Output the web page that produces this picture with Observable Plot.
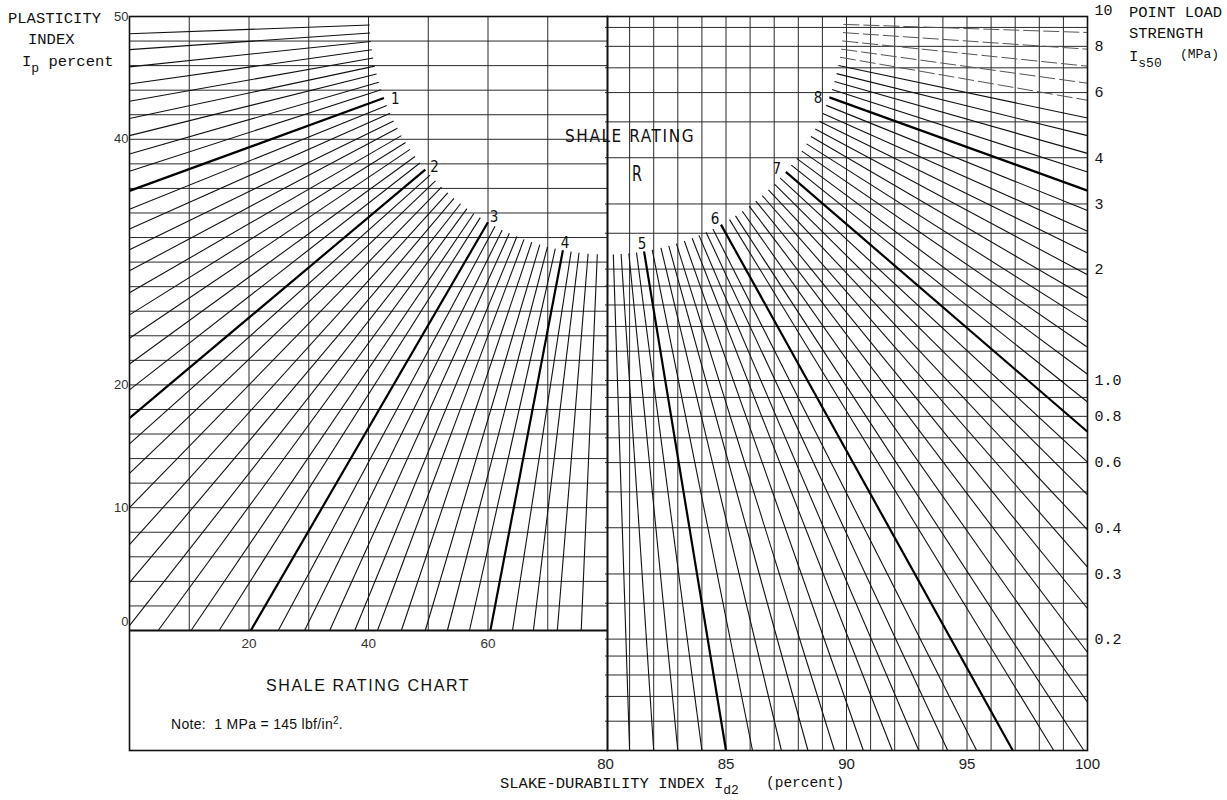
<!DOCTYPE html>
<html>
<head>
<meta charset="utf-8">
<script src="https://cdn.jsdelivr.net/npm/d3@7"></script>
<script src="https://cdn.jsdelivr.net/npm/@observablehq/plot@0.6"></script>
<style>
  html, body { margin: 0; padding: 0; background: #fff; }
  #chart { position: relative; width: 1227px; height: 800px; background: #fff; overflow: hidden; }
  #chart svg { position: absolute; left: 0; top: 0; }
  .t { position: absolute; white-space: nowrap; line-height: 1; color: #111; }
  .mono { font-family: "Liberation Mono", "DejaVu Sans Mono", monospace; font-size: 15.5px; }
  .mono sub { font-size: 13px; vertical-align: -6px; line-height: 0; }
  .sans { font-family: "Liberation Sans", Arial, sans-serif; }
  .narrow { font-family: "Liberation Sans Narrow", "DejaVu Sans Condensed", "Liberation Sans", sans-serif; font-stretch: condensed; }
  sup { font-size: 10px; vertical-align: 5px; line-height: 0; }
</style>
</head>
<body>
<div id="chart">
  <div class="t mono" style="left:8px; top:12px;">PLASTICITY</div>
  <div class="t mono" style="left:28px; top:33px;">INDEX</div>
  <div class="t mono" style="left:22px; top:55px;">I<sub>p</sub> percent</div>

  <div class="t mono" style="left:1129px; top:6px;">POINT LOAD</div>
  <div class="t mono" style="left:1129px; top:27px;">STRENGTH</div>
  <div class="t mono" style="left:1129px; top:50px;">I<sub>s50</sub></div>
  <div class="t mono" style="left:1180px; top:48px; font-size:13px;">(MPa)</div>

  <div class="t mono" style="left:500px; top:777px;">SLAKE-DURABILITY INDEX I<sub>d2</sub></div>
  <div class="t mono" style="left:766px; top:776px; font-size:14.5px;">(percent)</div>

  <div class="t narrow" style="left:565px; top:128px; font-size:17px; letter-spacing:1.6px;">SHALE RATING</div>
  <div class="t narrow" style="left:632px; top:163px; font-size:22px; transform:scaleX(0.72); transform-origin:left top;">R</div>

  <div class="t sans" style="left:266px; top:678px; font-size:16px; letter-spacing:1.6px;">SHALE RATING CHART</div>
  <div class="t sans" style="left:171px; top:717px; font-size:14px; letter-spacing:0.3px;">Note:&nbsp; 1 MPa = 145 lbf/in<sup>2</sup>.</div>
</div>
<script>
// ---- Axis ticks and grid ----------------------------------------------
const slakeTicksLow = [20, 40, 60];
const slakeTicksHigh = [80, 85, 90, 95, 100];
const plasticityTicks = [0, 10, 20, 40, 50];
const pointLoadTicks = [10, 8, 6, 4, 3, 2, 1.0, 0.8, 0.6, 0.4, 0.3, 0.2];
const pointLoadTickLabels = ["10", "8", "6", "4", "3", "2", "1.0", "0.8", "0.6", "0.4", "0.3", "0.2"];

const slakeGridLow = [10, 20, 30, 40, 50, 60, 70];
const plasticityGrid = [2, 4, 6, 8, 10, 12, 14, 16, 18, 20, 22, 24, 26, 28, 30, 32, 34, 36, 38, 40, 42, 44, 46, 48];
const slakeGridHigh = [81, 82, 83, 84, 85, 86, 87, 88, 89, 90, 91, 92, 93, 94, 95, 96, 97, 98, 99];
const pointLoadGrid = [9, 8, 7, 6, 5, 4, 3, 2.5, 2, 1.8, 1.6, 1.4, 1.2, 1.0, 0.9, 0.8, 0.7, 0.6, 0.5, 0.4, 0.3, 0.25, 0.2, 0.18, 0.16, 0.14, 0.12];

// ---- Shale rating contours (R in steps of 0.1) ------------------------
// Id2 < 80: contours end on the left edge (Id2 = 0) at a plasticity index ...
const ratingsLeftEdge = [0.1, 0.2, 0.3, 0.4, 0.5, 0.6, 0.7, 0.8, 0.9, 1.0, 1.1, 1.2, 1.3, 1.4, 1.5, 1.6, 1.7, 1.8, 1.9, 2.0, 2.1, 2.2, 2.3, 2.4, 2.5, 2.6];
const leftEdgePlasticity = [48.6, 47.3, 45.9, 44.5, 43.1, 41.7, 40.3, 38.8, 37.4, 35.8, 34.3, 32.7, 31.0, 29.3, 27.5, 25.7, 23.8, 21.7, 19.6, 17.3, 15.2, 12.8, 10.0, 7.0, 3.9, 0.4];
// ... or on the bottom edge (Ip = 0) at a slake-durability index
const ratingsLowBottom = [2.7, 2.8, 2.9, 3.0, 3.1, 3.2, 3.3, 3.4, 3.5, 3.6, 3.7, 3.8, 3.9, 4.0, 4.1, 4.2, 4.3, 4.4];
const lowBottomSlake = [4.8, 10.3, 15.0, 20.3, 24.9, 29.3, 33.5, 37.7, 41.5, 45.5, 49.5, 53.2, 56.9, 60.4, 64.1, 67.6, 71.6, 75.6];

// Id2 > 80: contours end on the bottom edge (Is50 = 0.1) at a slake-durability index ...
const ratingsHighBottom = [4.6, 4.7, 4.8, 4.9, 5.0, 5.1, 5.2, 5.3, 5.4, 5.5, 5.6, 5.7, 5.8, 5.9, 6.0, 6.1, 6.2];
const highBottomSlake = [81.0, 82.0, 83.0, 84.0, 85.0, 86.1, 87.3, 88.4, 89.5, 90.7, 91.9, 93.0, 94.2, 95.4, 96.9, 98.6, 99.85];
// ... or on the right edge (Id2 = 100) at a point load strength (MPa)
const ratingsRightEdge = [6.3, 6.4, 6.5, 6.6, 6.7, 6.8, 6.9, 7.0, 7.1, 7.2, 7.3, 7.4, 7.5, 7.6, 7.7, 7.8, 7.9, 8.0, 8.1, 8.2, 8.3, 8.4, 8.5, 8.6, 8.7, 8.8, 8.9];
const rightEdgePointLoad = [0.135, 0.184, 0.242, 0.313, 0.395, 0.491, 0.602, 0.727, 0.875, 1.04, 1.23, 1.44, 1.67, 1.93, 2.21, 2.53, 2.88, 3.26, 3.66, 4.11, 4.59, 5.12, 5.72, 6.36, 7.07, 7.86, 8.72];

// ---- Layout ----------------------------------------------------------
const W = 1227, H = 800;
const xLow = {domain: [0, 80], range: [129, 607]};
const yIp = {domain: [0, 50], range: [630, 16]};
const xHigh = {domain: [80, 100], range: [605, 1087]};
const yIs = {type: "log", domain: [0.1, 10], range: [750, 10]};
const CLEAR_RADIUS = 238;   // contours stop at the edge of the central clear area
const LABEL_RADIUS = 226;   // rating numbers sit just inside it

const sxLow = Plot.scale({x: xLow}), syLow = Plot.scale({y: yIp});
const sxHigh = Plot.scale({x: xHigh}), syHigh = Plot.scale({y: yIs});

// every contour radiates from the top corner shared by both panels (Id2 = 80, top edge)
const hubLow = [sxLow.apply(80), syLow.apply(50)];
const hubHigh = [sxHigh.apply(80), syLow.apply(50)];

function contour(R, x, y, sx, sy, hub) {
  const px = sx.apply(x), py = sy.apply(y);
  const dx = px - hub[0], dy = py - hub[1], len = Math.hypot(dx, dy);
  const at = (r) => [sx.invert(hub[0] + dx * r / len), sy.invert(hub[1] + dy * r / len)];
  const [x1, y1] = at(CLEAR_RADIUS);
  const [lx, ly] = at(LABEL_RADIUS);
  return {R, x1, y1, x2: x, y2: y, lx, ly, major: Number.isInteger(R)};
}

const lowContours = [
  ...ratingsLeftEdge.map((R, i) => contour(R, 0, leftEdgePlasticity[i], sxLow, syLow, hubLow)),
  ...ratingsLowBottom.map((R, i) => contour(R, lowBottomSlake[i], 0, sxLow, syLow, hubLow))
];
const highContours = [
  ...ratingsHighBottom.map((R, i) => contour(R, highBottomSlake[i], 0.1, sxHigh, syHigh, hubHigh)),
  ...ratingsRightEdge.map((R, i) => contour(R, 100, rightEdgePointLoad[i], sxHigh, syHigh, hubHigh))
];

const ink = "#111";
const gridInk = "#2b2b2b";
const sansFont = "Liberation Sans, Arial, sans-serif";
const monoFont = "Liberation Mono, DejaVu Sans Mono, monospace";
const narrowFont = "Liberation Sans Narrow, DejaVu Sans Condensed, Liberation Sans, sans-serif";

function contourMarks(data) {
  // the flattest contours near the top of the high-durability panel are printed faintly, broken up
  const faint = (d) => d.R >= 8.45;
  return [
    Plot.link(data.filter(d => !d.major && !faint(d)), {x1: "x1", y1: "y1", x2: "x2", y2: "y2", stroke: ink, strokeWidth: 1.1}),
    Plot.link(data.filter(faint), {x1: "x1", y1: "y1", x2: "x2", y2: "y2", stroke: "#555", strokeWidth: 1, strokeDasharray: "16,4"}),
    Plot.link(data.filter(d => d.major), {x1: "x1", y1: "y1", x2: "x2", y2: "y2", stroke: "#000", strokeWidth: 2.2}),
    Plot.text(data.filter(d => d.major), {x: "lx", y: "ly", text: d => String(d.R), dy: 5,
      fontFamily: narrowFont, fontSize: 15, fill: ink})
  ];
}

// Left panel: plasticity index against slake durability below 80 %
const low = Plot.plot({
  width: W, height: H,
  marginLeft: 129, marginRight: W - 607, marginTop: 16, marginBottom: H - 750,
  x: {...xLow, axis: null},
  y: {...yIp, axis: null},
  style: {background: "transparent", overflow: "visible"},
  marks: [
    Plot.ruleX(slakeGridLow, {y1: 0, y2: 50, stroke: gridInk, strokeWidth: 1}),
    Plot.ruleY(plasticityGrid, {x1: 0, x2: 80, stroke: gridInk, strokeWidth: 1}),
    ...contourMarks(lowContours),
    Plot.ruleY([0], {x1: 0, x2: 80, stroke: ink, strokeWidth: 2}),
    Plot.frame({stroke: ink, strokeWidth: 1.6}),
    Plot.text(plasticityTicks.filter(d => d > 0), {x: 0, y: d => d, text: d => String(d), textAnchor: "end", dx: -1,
      fontFamily: sansFont, fontSize: 13, fill: "#333"}),
    Plot.text(plasticityTicks.filter(d => d === 0), {x: 0, y: d => d, text: d => String(d), textAnchor: "end", dx: -1, dy: -9,
      fontFamily: sansFont, fontSize: 13, fill: "#333"}),
    Plot.text(slakeTicksLow, {x: d => d, y: 0, text: d => String(d), dy: 13,
      fontFamily: sansFont, fontSize: 13.5, fill: "#333"})
  ]
});

// Right panel: point load strength (log) against slake durability above 80 %
const high = Plot.plot({
  width: W, height: H,
  marginLeft: 607, marginRight: W - 1087, marginTop: 16, marginBottom: H - 750,
  x: {...xHigh, axis: null},
  y: {...yIs, axis: null},
  style: {background: "transparent", overflow: "visible"},
  marks: [
    Plot.ruleX(slakeGridHigh, {y1: 0.1, y2: syHigh.invert(syLow.apply(50)), stroke: gridInk, strokeWidth: 1}),
    Plot.ruleY(pointLoadGrid, {x1: 80, x2: 100, stroke: gridInk, strokeWidth: 1}),
    ...contourMarks(highContours),
    Plot.frame({stroke: ink, strokeWidth: 1.6}),
    Plot.text(pointLoadTicks, {x: 100, y: d => d, text: (d, i) => pointLoadTickLabels[i], textAnchor: "start", dx: 7,
      fontFamily: monoFont, fontSize: 15, fill: ink}),
    Plot.text(slakeTicksHigh, {x: d => d, y: 0.1, text: d => String(d), dy: 14,
      fontFamily: sansFont, fontSize: 15, fill: "#222"})
  ]
});

const chart = document.getElementById("chart");
chart.prepend(high);
chart.prepend(low);
</script>
</body>
</html>
